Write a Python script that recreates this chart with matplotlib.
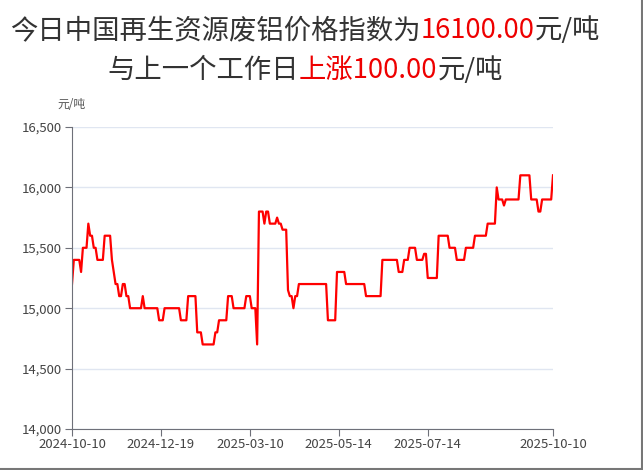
import matplotlib.pyplot as plt
import numpy as np
from matplotlib.offsetbox import TextArea, HPacker, AnchoredOffsetbox
from matplotlib.ticker import FuncFormatter
from matplotlib.lines import Line2D

plt.rcParams['font.family'] = ['Noto Sans CJK SC', 'DejaVu Sans']

# price level (元/吨) and how many working days it lasted, in order
run_values = [15200, 15400, 15300, 15500, 15700, 15600, 15500, 15400, 15600, 15400,
              15300, 15200, 15100, 15200, 15100, 15000, 15100, 15000, 14900, 15000,
              14900, 15100, 14800, 14700, 14800, 14900, 15100, 15000, 15100, 15000,
              14700, 15800, 15700, 15800, 15700, 15750, 15700, 15650, 15150, 15100,
              15000, 15100, 15200, 14900, 15300, 15200, 15100, 15400, 15300, 15400,
              15500, 15400, 15450, 15250, 15600, 15500, 15400, 15500, 15600, 15700,
              16000, 15900, 15850, 15900, 16100, 15900, 15800, 15900, 16100]
run_days = [1, 4, 1, 3, 1, 2, 2, 4, 4, 1,
            1, 2, 2, 2, 2, 7, 1, 8, 3, 9,
            4, 5, 3, 7, 2, 5, 3, 7, 3, 3,
            1, 3, 1, 2, 4, 1, 2, 3, 1, 2,
            1, 2, 16, 5, 5, 11, 9, 9, 3, 3,
            4, 4, 2, 6, 6, 4, 5, 5, 7, 5,
            1, 3, 1, 8, 6, 4, 2, 6, 1]

tick_pos = [0, 49, 98, 147, 196, 265]
tick_labels = ['2024-10-10', '2024-12-19', '2025-03-10', '2025-05-14', '2025-07-14', '2025-10-10']

prices = np.repeat(run_values, run_days)
x = np.arange(len(prices))

fig = plt.figure(figsize=(6.43, 4.70), dpi=100)
ax = fig.add_axes([72/643, 1-429/470, 481/643, 302/470])
ax.plot(x, prices, color='#ff0000', lw=1.6, solid_joinstyle='round')
ax.set_xlim(0, len(prices) - 1)
ax.set_ylim(14000, 16500)
ax.set_yticks(np.arange(14000, 16501, 500))
ax.yaxis.set_major_formatter(FuncFormatter(lambda v, p: f'{int(v):,}'))
ax.set_xticks(tick_pos, tick_labels)
ax.grid(axis='y', color='#e0e6f1', lw=1)
ax.set_axisbelow(True)
for s in ['top', 'right']:
    ax.spines[s].set_visible(False)
for s in ['left', 'bottom']:
    ax.spines[s].set_color('#6e7079')
ax.tick_params(colors='#6e7079', labelcolor='#444444', length=5, labelsize=9.5)
ax.tick_params(axis='x', pad=1.5)
ax.tick_params(axis='y', pad=2.5)

fig.text(71/643, 1-104/470, '元/吨', ha='center', va='center', fontsize=8.5, color='#555555')


def title_line(parts, y):
    boxes = [TextArea(t, textprops=dict(color=c, fontsize=19.7)) for t, c in parts]
    pack = HPacker(children=boxes, align='baseline', pad=0, sep=0)
    ab = AnchoredOffsetbox(loc='center', child=pack, frameon=False, pad=0, borderpad=0,
                           bbox_to_anchor=(305/643, 1-y/470), bbox_transform=fig.transFigure)
    fig.add_artist(ab)


title_line([('今日中国再生资源废铝价格指数为', '#333333'), ('16100.00', '#ee0000'),
            ('元/吨', '#333333')], 30)
title_line([('与上一个工作日', '#333333'), ('上涨100.00', '#ee0000'),
            ('元/吨', '#333333')], 70)

# screenshot border on right and bottom
fig.add_artist(Line2D([0.998, 0.998], [0, 1], transform=fig.transFigure, color='#777777', lw=1.5))
fig.add_artist(Line2D([0, 1], [0.002, 0.002], transform=fig.transFigure, color='#777777', lw=1.5))

fig.savefig('out.png', dpi=100)
